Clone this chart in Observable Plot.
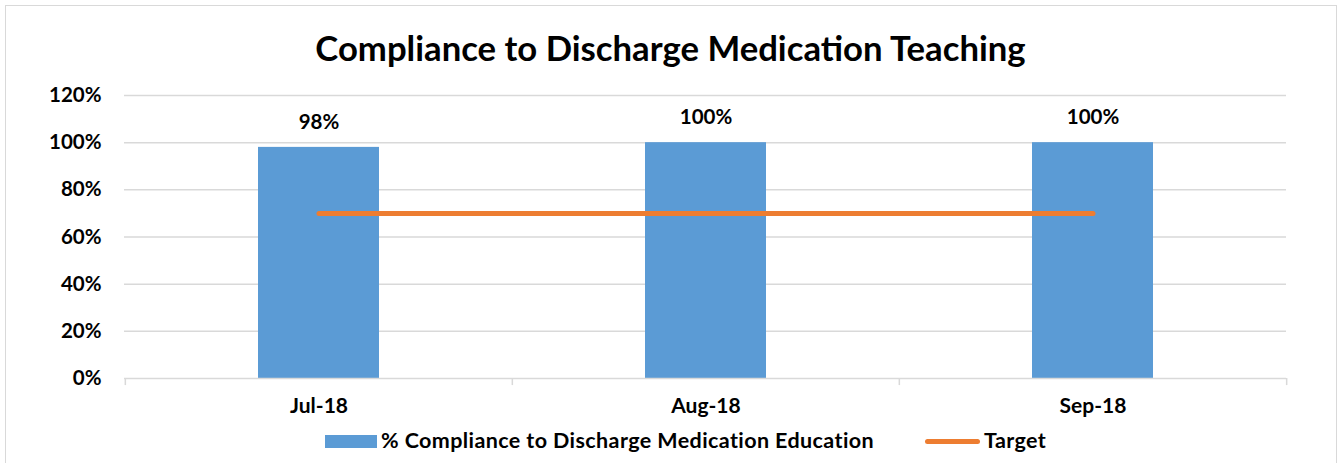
<!DOCTYPE html>
<html><head><meta charset="utf-8">
<script src="https://cdn.jsdelivr.net/npm/d3@7"></script>
<script src="https://cdn.jsdelivr.net/npm/@observablehq/plot@0.6"></script>
<style>
body{margin:0;background:#fff;font-family:Lato,"Open Sans",sans-serif;}
#wrap{position:relative;width:1341px;height:463px;overflow:hidden;}
#frame{position:absolute;left:5px;top:5px;width:1332px;height:480px;border:1.5px solid #D9D9D9;box-sizing:border-box;}
#title{position:absolute;top:27px;left:0;width:1341px;text-align:center;font-size:34.7px;font-weight:bold;color:#000;}
#chart{position:absolute;left:0;top:80px;}
#legend{position:absolute;top:427px;left:0;width:1341px;font-size:21.5px;font-weight:bold;color:#000;}
.sw{position:absolute;white-space:nowrap;}
</style></head>
<body><div id="wrap"><div id="frame"></div><div id="title">Compliance to Discharge Medication Teaching</div><div id="chart"></div>
<div id="legend">
 <div class="sw" style="left:325px;top:8px;width:52px;height:13px;background:#5B9BD5"></div>
 <div class="sw" style="left:381px;top:0px;letter-spacing:0.4px;">% Compliance to Discharge Medication Education</div>
 <div class="sw" style="left:925px;top:12px;width:55px;height:5px;border-radius:3px;background:#ED7D31"></div>
 <div class="sw" style="left:984px;top:0px;letter-spacing:0.4px;">Target</div>
</div></div>
<script>
const months = ["Jul-18", "Aug-18", "Sep-18"];
const compliance = [0.98, 1.00, 1.00];
const target = [0.70, 0.70, 0.70];
const yTicks = [0, 0.2, 0.4, 0.6, 0.8, 1.0, 1.2];
const labels = ["98%", "100%", "100%"];

const rows = months.map((m, i) => ({month: m, value: compliance[i], target: target[i], label: labels[i]}));

const W = 1341, H = 383, mL = 124, mR = 55, mT = 15, mB = 85;
const step = (W - mL - mR) / months.length;
const edgesL = months.map(m => ({month: m}));
const edgeR = [{month: months[months.length - 1]}];

const chart = Plot.plot({
  width: W, height: H,
  marginLeft: mL, marginRight: mR, marginTop: mT, marginBottom: mB,
  style: {fontFamily: "Lato, 'Open Sans', sans-serif", background: "transparent"},
  x: {domain: months, padding: 0, axis: null},
  y: {domain: [0, 1.2], axis: null},
  marks: [
    Plot.ruleY(yTicks.slice(1), {stroke: "#D9D9D9", strokeWidth: 1.5}),
    Plot.barY(rows, {x: "month", y: "value", fill: "#5B9BD5", insetLeft: 133, insetRight: 133}),
    Plot.ruleY([0], {stroke: "#D9D9D9", strokeWidth: 1.5}),
    Plot.ruleX(edgesL, {x: "month", y1: 0, y2: -0.03, dx: -step / 2, stroke: "#D9D9D9", strokeWidth: 1.5}),
    Plot.ruleX(edgeR, {x: "month", y1: 0, y2: -0.03, dx: step / 2, stroke: "#D9D9D9", strokeWidth: 1.5}),
    Plot.line(rows, {x: "month", y: "target", stroke: "#ED7D31", strokeWidth: 5, strokeLinecap: "round"}),
    Plot.text(rows, {x: "month", y: "value", text: "label", dy: -25, fontSize: 20.5, fontWeight: "bold", fill: "#000"}),
    Plot.axisY(yTicks, {tickSize: 0, tickPadding: 23, tickFormat: d => Math.round(d * 100) + "%", fontSize: 20.5, fontWeight: "bold", color: "#000", label: null}),
    Plot.axisX({tickSize: 0, tickPadding: 20, fontSize: 21, fontWeight: "bold", color: "#000", label: null})
  ]
});
document.getElementById("chart").appendChild(chart);
</script></body></html>
